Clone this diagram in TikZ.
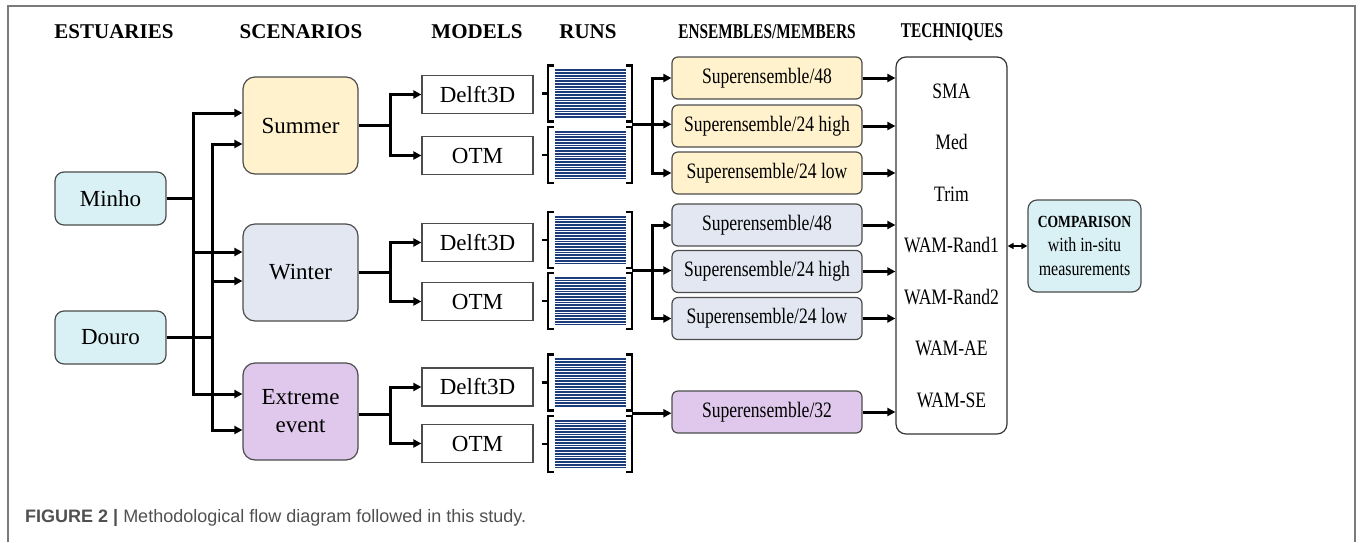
\documentclass[tikz,border=0pt]{standalone}
\usepackage{fontspec}
\setmainfont{Liberation Serif}
\newfontfamily\condserif[FakeStretch=0.8]{Liberation Serif}
\newfontfamily\narrowserif[FakeStretch=0.73]{Liberation Serif}
\newfontfamily\capfont{Liberation Sans}
\usepackage{xcolor}
\definecolor{estcyan}{HTML}{D9F1F4}
\definecolor{sumfill}{HTML}{FFF2CC}
\definecolor{winfill}{HTML}{E3E7F2}
\definecolor{extfill}{HTML}{DFC8EC}
\definecolor{runnavy}{HTML}{1D3C7C}
\definecolor{framegray}{HTML}{7A7A7A}
\definecolor{capgray}{HTML}{505050}
\usepackage{tikz}
\usetikzlibrary{positioning,arrows.meta,calc}
\tikzset{
  est/.style  ={rectangle, rounded corners=9pt, draw=black!70, line width=1.2pt, fill=estcyan,
                minimum width=111pt, minimum height=53pt, font=\fontsize{23}{28}\selectfont},
  scen/.style ={rectangle, rounded corners=12pt, draw=black!70, line width=1.2pt, align=center,
                minimum width=115pt, minimum height=97pt, font=\fontsize{23}{28}\selectfont},
  model/.style={rectangle, draw=black!70, line width=1.2pt, fill=white,
                minimum width=111pt, minimum height=38pt, font=\fontsize{23}{28}\selectfont},
  runs/.style ={rectangle, inner sep=0pt, minimum width=90pt, minimum height=56pt},
  memb/.style ={rectangle, rounded corners=6pt, draw=black!70, line width=1.2pt,
                minimum width=190pt, minimum height=42pt, font=\condserif\fontsize{22}{26}\selectfont},
  tech/.style ={rectangle, rounded corners=10pt, draw=black!80, line width=1.2pt, fill=white, align=center,
                minimum width=111pt, minimum height=377pt, font=\condserif\fontsize{22}{51.5}\selectfont},
  cmp/.style  ={rectangle, rounded corners=9pt, draw=black!70, line width=1.2pt, fill=estcyan, align=center,
                minimum width=113pt, minimum height=92pt, font=\condserif\fontsize{20}{24}\selectfont},
  head/.style ={font=\bfseries\fontsize{21}{25}\selectfont},
  nhead/.style={font=\narrowserif\bfseries\fontsize{21}{25}\selectfont},
  wire/.style ={line width=3pt},
  conn/.style ={wire, -{Triangle[length=8pt,width=8pt]}},
  dconn/.style={line width=2pt, {Triangle[length=6pt,width=6pt]}-{Triangle[length=6pt,width=6pt]}},
  bar/.style  ={line width=1.7pt, runnavy},
  brk/.style  ={line width=2.5pt},
}

\begin{document}
\begin{tikzpicture}[x=1pt, y=-1pt]
  \useasboundingbox (0,0) rectangle (1362,542);
  \draw[framegray, line width=2pt] (8,542) -- (8,6) -- (1355,6) -- (1355,542);

  \node[head]  (hest)  at (114,32)  {ESTUARIES};
  \node[head]  (hscen) at (301,32)  {SCENARIOS};
  \node[head]  (hmod)  at (477,32)  {MODELS};
  \node[head]  (hrun)  at (588,32)  {RUNS};
  \node[nhead] (hens)  at (767,32)  {ENSEMBLES/MEMBERS};
  \node[nhead] (htech) at (952,32)  {TECHNIQUES};

  \node[est] (minho) at (110.5,198.5) {Minho};
  \node[est] (douro) at (110.5,337.5) {Douro};

  \node[scen, fill=sumfill] (summer)  at (300.5,125.5) {Summer};
  \node[scen, fill=winfill] (winter)  at (300.5,272.5) {Winter};
  \node[scen, fill=extfill] (extreme) at (300.5,411.5) {Extreme\\event};

  \node[model] (sd) at (477.5,94.5)  {Delft3D};
  \node[model] (so) at (477.5,155.5) {OTM};
  \node[model] (wd) at (477.5,242.5) {Delft3D};
  \node[model] (wo) at (477.5,301.5) {OTM};
  \node[model] (ed) at (477.5,387)   {Delft3D};
  \node[model] (eo) at (477.5,443.5) {OTM};

  \node[runs] (sr1) at (587,93.5)  {};
  \node[runs] (sr2) at (587,155)   {};
  \node[runs] (wr1) at (587,240)   {};
  \node[runs] (wr2) at (587,301)   {};
  \node[runs] (er1) at (587,382.5) {};
  \node[runs] (er2) at (587,444)   {};

  \node[memb, fill=sumfill] (se1) at (767,78)    {Superensemble/48};
  \node[memb, fill=sumfill] (se2) at (767,126)   {Superensemble/24 high};
  \node[memb, fill=sumfill] (se3) at (767,173)   {Superensemble/24 low};
  \node[memb, fill=winfill] (we1) at (767,225)   {Superensemble/48};
  \node[memb, fill=winfill] (we2) at (767,271.5) {Superensemble/24 high};
  \node[memb, fill=winfill] (we3) at (767,318.5) {Superensemble/24 low};
  \node[memb, fill=extfill] (ee)  at (767,412)   {Superensemble/32};

  \node[tech] (tech) at (951.5,245.5) {SMA\\Med\\Trim\\WAM-Rand1\\WAM-Rand2\\WAM-AE\\WAM-SE};
  \node[cmp]  (cmp)  at (1084.5,246)  {{\bfseries\fontsize{17}{24}\selectfont COMPARISON}\\with in-situ\\measurements};

  % run bundles: bars between square brackets
  \foreach \r in {sr1,sr2,wr1,wr2,er1,er2}{
    \foreach \k in {0,...,17}
      \draw[bar] ($(\r.north west)+(13pt,{-5pt-\k*2.75pt})$) -- ++(71pt,0pt);
    \draw[brk] ($(\r.north west)+(12pt,0pt)$) -- ++(-6pt,0pt) -- ($(\r.south west)+(6pt,0pt)$) -- ++(6pt,0pt);
    \draw[brk] (\r.west) -- ++(6pt,0pt);
    \draw[brk] ($(\r.north east)+(-6pt,0pt)$) -- (\r.north east) -- (\r.south east) -- ++(-6pt,0pt);
  }

  \coordinate (mfork) at (193,198.5);
  \coordinate (dfork) at (212,337.5);
  \draw[wire] (minho) -- (mfork);
  \draw[conn] (mfork) |- ($(summer.west)+(0,-12.5)$);
  \draw[conn] (mfork) |- ($(winter.west)+(0,-20.5)$);
  \draw[conn] (mfork) |- ($(extreme.west)+(0,-17.5)$);
  \draw[wire] (douro) -- (dfork);
  \draw[conn] (dfork) |- ($(summer.west)+(0,18.5)$);
  \draw[conn] (dfork) |- ($(winter.west)+(0,8.5)$);
  \draw[conn] (dfork) |- ($(extreme.west)+(0,18.5)$);

  \coordinate (sfork) at ($(summer.east)+(32,0)$);
  \coordinate (wfork) at ($(winter.east)+(32,0)$);
  \coordinate (efork) at ($(extreme.east)+(32,2.5)$);
  \draw[wire] (summer) -- (sfork);
  \draw[conn] (sfork) |- (sd.west);
  \draw[conn] (sfork) |- (so.west);
  \draw[wire] (winter) -- (wfork);
  \draw[conn] (wfork) |- (wd.west);
  \draw[conn] (wfork) |- (wo.west);
  \draw[wire] (extreme.east |- efork) -- (efork);
  \draw[conn] (efork) |- (ed.west);
  \draw[conn] (efork) |- (eo.west);

  \coordinate (srj) at ($(sr1.south east)!0.5!(sr2.north east)$);
  \coordinate (wrj) at ($(wr1.south east)!0.5!(wr2.north east)$);
  \coordinate (erj) at ($(er1.south east)!0.5!(er2.north east)$);
  \coordinate (sefork) at ($(srj)+(20,0)$);
  \coordinate (wefork) at ($(wrj)+(20,0)$);
  \draw[wire] (srj) -- (sefork);
  \draw[conn] (sefork) |- (se1.west);
  \draw[conn] (sefork) -- (sefork -| se2.west);
  \draw[conn] (sefork) |- (se3.west);
  \draw[wire] (wrj) -- (wefork);
  \draw[conn] (wefork) |- (we1.west);
  \draw[conn] (wefork) -- (wefork -| we2.west);
  \draw[conn] (wefork) |- (we3.west);
  \draw[conn] (erj) -- (erj -| ee.west);

  \foreach \m in {se1,se2,se3,we1,we2,we3,ee}
    \draw[conn] (\m) -- (\m -| tech.west);
  \draw[dconn] (tech.east |- cmp.west) -- (cmp.west);

  \node[anchor=west, inner sep=0pt, text=capgray, font=\capfont\fontsize{18}{22}\selectfont] (caption) at (25,518)
    {\textbf{FIGURE 2 |} Methodological flow diagram followed in this study.};
\end{tikzpicture}
\end{document}
